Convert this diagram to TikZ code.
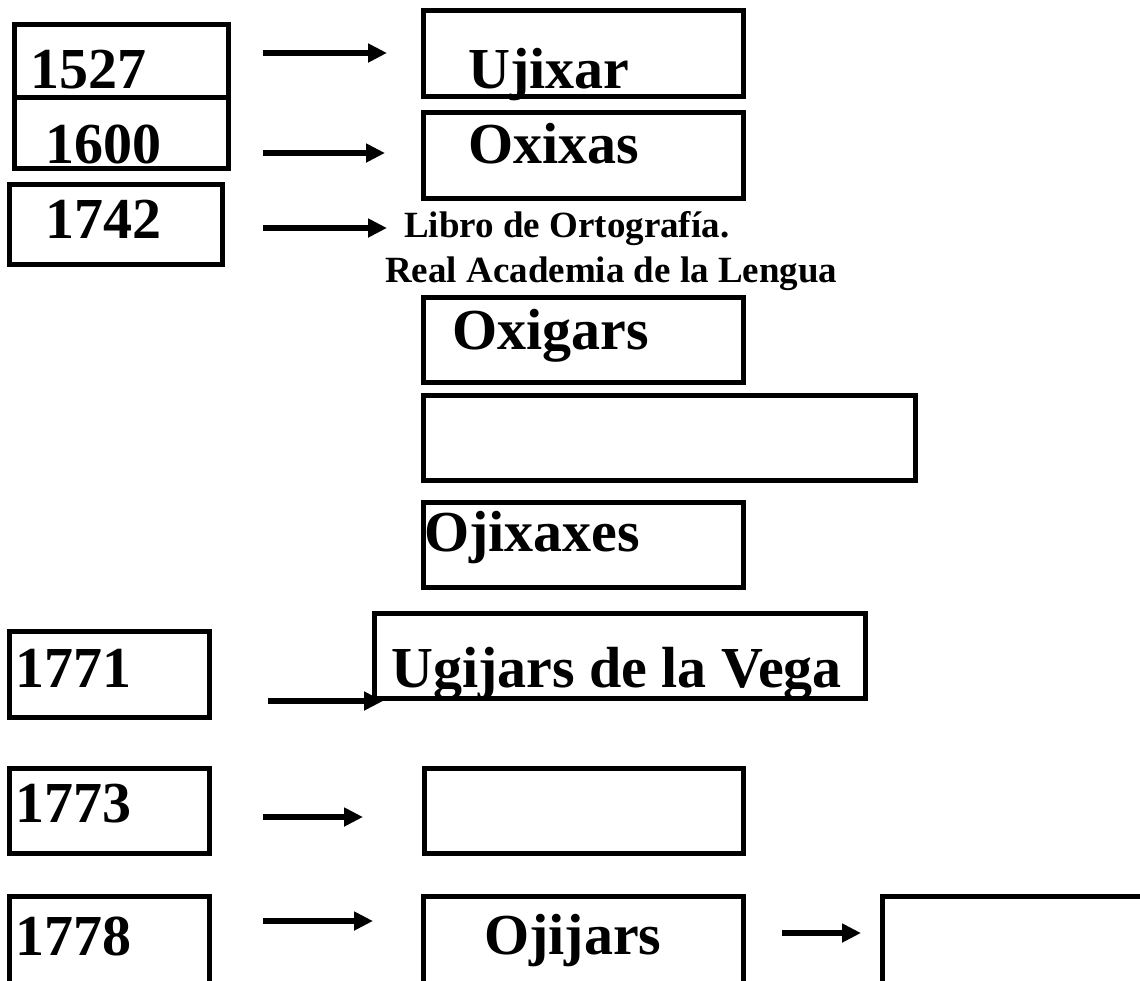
\documentclass[tikz,border=0pt]{standalone}
\usepackage{fontspec}
\setmainfont{Liberation Serif}
\usetikzlibrary{arrows.meta}
\tikzset{
  box/.style={draw=black, line width=5pt, inner sep=0pt, outer sep=0pt},
  big/.style={anchor=base west, inner sep=0pt, font=\fontsize{58}{60}\selectfont\bfseries},
  mid/.style={anchor=base west, inner sep=0pt, font=\fontsize{37}{40}\selectfont\bfseries},
  arr/.style={line width=6pt, -{Triangle[length=19pt,width=18pt]}}
}
\begin{document}
\begin{tikzpicture}[x=1pt,y=-1pt]
\useasboundingbox (0,0) rectangle (1140,980);
% boxes
\node[box, minimum width=214pt, minimum height=73pt] (b1527) at (121,60.5) {};
\node[box, minimum width=214pt, minimum height=71pt] (b1600) at (121,132.5) {};
\node[box, minimum width=213pt, minimum height=80pt] (b1742) at (115.5,224) {};
\node[box, minimum width=320pt, minimum height=86pt] (bujixar) at (583,53) {};
\node[box, minimum width=320pt, minimum height=86pt] (boxixas) at (583,155) {};
\node[box, minimum width=320pt, minimum height=85pt] (boxigars) at (583,339.5) {};
\node[box, minimum width=492pt, minimum height=85pt] (bempty) at (669,437.5) {};
\node[box, minimum width=320pt, minimum height=85pt] (bojixaxes) at (583,544.5) {};
\node[box, minimum width=491pt, minimum height=85pt] (bugijars) at (619.5,655.5) {};
\node[box, minimum width=200pt, minimum height=86pt] (b1771) at (109,674.5) {};
\node[box, minimum width=200pt, minimum height=85pt] (b1773) at (109,810.5) {};
\node[box, minimum width=319pt, minimum height=85pt] (b1773r) at (583.5,810.5) {};
\node[box, minimum width=200pt, minimum height=94pt] (b1778) at (109,943) {};
\node[box, minimum width=320pt, minimum height=94pt] (bojijars) at (583,943) {};
\node[box, minimum width=268pt, minimum height=94pt] (blast) at (1016,943) {};
% texts
\node[big] (t1527) at (30,88) {1527};
\node[big] (t1600) at (45,163) {1600};
\node[big] (t1742) at (45,238) {1742};
\node[big] (tujixar) at (468,88) {Ujixar};
\node[big] (toxixas) at (468,163) {Oxixas};
\node[mid] (tlibro) at (404,237) {Libro de Ortografía.};
\node[mid] (treal) at (385,282) {Real Academia de la Lengua};
\node[big] (toxigars) at (452,349) {Oxigars};
\node[big] (tojixaxes) at (424,551) {Ojixaxes};
\node[big] (tugijars) at (391,687) {Ugijars de la Vega};
\node[big] (t1771) at (15,687) {1771};
\node[big] (t1773) at (15,822) {1773};
\node[big] (t1778) at (15,955) {1778};
\node[big] (tojijars) at (484,954) {Ojijars};
% arrows
\coordinate (a1s) at (263,53);  \coordinate (a1e) at (387,53);
\coordinate (a2s) at (263,153); \coordinate (a2e) at (385,153);
\coordinate (a3s) at (263,228); \coordinate (a3e) at (387,228);
\coordinate (a4s) at (268,701); \coordinate (a4e) at (383,701);
\coordinate (a5s) at (263,817); \coordinate (a5e) at (363,817);
\coordinate (a6s) at (263,921); \coordinate (a6e) at (373,921);
\coordinate (a7s) at (782,933); \coordinate (a7e) at (861,933);
\draw[arr] (a1s) -- (a1e);
\draw[arr] (a2s) -- (a2e);
\draw[arr] (a3s) -- (a3e);
\draw[arr] (a4s) -- (a4e);
\draw[arr] (a5s) -- (a5e);
\draw[arr] (a6s) -- (a6e);
\draw[arr] (a7s) -- (a7e);
\end{tikzpicture}
\end{document}
